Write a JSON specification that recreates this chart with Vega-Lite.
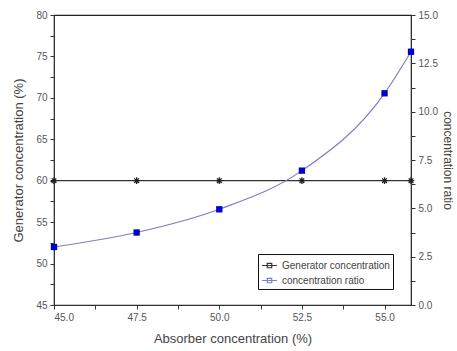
{
  "$schema": "https://vega.github.io/schema/vega-lite/v6.json",
  "width": 357,
  "height": 290,
  "autosize": {"type": "none"},
  "padding": {"left": 54, "top": 15, "right": 46, "bottom": 46},
  "background": "white",
  "config": {
    "font": "Liberation Sans",
    "view": {"stroke": "#222", "strokeWidth": 1.2},
    "axis": {
      "grid": false,
      "labelColor": "#555",
      "titleColor": "#444",
      "domainColor": "#333",
      "tickColor": "#333",
      "labelFontSize": 10,
      "titleFontSize": 13,
      "titleFontWeight": "normal",
      "tickSize": 4,
      "labelPadding": 3
    }
  },
  "data": {
    "values": [
      {"x": 45.0, "gen": 60, "ratio": 3.0},
      {"x": 47.5, "gen": 60, "ratio": 3.75},
      {"x": 50.0, "gen": 60, "ratio": 4.95},
      {"x": 52.5, "gen": 60, "ratio": 6.95},
      {"x": 55.0, "gen": 60, "ratio": 10.95},
      {"x": 55.8, "gen": 60, "ratio": 13.1}
    ]
  },
  "layer": [
    {
      "encoding": {
        "x": {
          "field": "x", "type": "quantitative",
          "scale": {"domain": [45, 55.8], "nice": false, "zero": false},
          "axis": {
            "title": "Absorber concentration (%)",
            "values": [45, 46.25, 47.5, 48.75, 50, 51.25, 52.5, 53.75, 55],
            "labelExpr": "datum.value % 2.5 == 0 ? format(datum.value, '.1f') : ''",
            "titlePadding": 10
          }
        },
        "y": {
          "field": "gen", "type": "quantitative",
          "scale": {"domain": [45, 80], "nice": false, "zero": false},
          "axis": {
            "title": "Generator concentration (%)",
            "orient": "left",
            "values": [45, 47.5, 50, 52.5, 55, 57.5, 60, 62.5, 65, 67.5, 70, 72.5, 75, 77.5, 80],
            "labelExpr": "datum.value % 5 == 0 ? format(datum.value, 'd') : ''",
            "titlePadding": 10
          }
        }
      },
      "layer": [
        {
          "mark": {"type": "line", "strokeWidth": 1.2},
          "encoding": {
            "color": {
              "datum": "Generator concentration",
              "type": "nominal",
              "scale": {"domain": ["Generator concentration", "concentration ratio"], "range": ["#333333", "#7f7fc4"]},
              "legend": {
                "title": null,
                "orient": "none",
                "legendX": 204,
                "legendY": 239,
                "fillColor": "white",
                "strokeColor": "#111",
                "padding": 3,
                "labelFontSize": 10,
                "labelColor": "#444",
                "rowPadding": 1,
                "symbolType": "M-1,0H1M-0.3,-0.3H0.3V0.3H-0.3Z",
                "symbolSize": 220,
                "symbolStrokeWidth": 1.2
              }
            }
          }
        },
        {
          "mark": {"type": "point", "shape": "M-1,0L1,0M0,-1L0,1M-0.7,-0.7L0.7,0.7M-0.7,0.7L0.7,-0.7", "filled": false, "size": 45, "color": "#222", "strokeWidth": 1.3, "opacity": 1}
        }
      ]
    },
    {
      "encoding": {
        "x": {"field": "x", "type": "quantitative", "scale": {"domain": [45, 55.8], "nice": false, "zero": false}},
        "y": {
          "field": "ratio", "type": "quantitative",
          "scale": {"domain": [0, 15], "nice": false},
          "axis": {
            "title": "concentration ratio",
            "orient": "right",
            "titleFontSize": 12,
            "values": [0, 1.25, 2.5, 3.75, 5, 6.25, 7.5, 8.75, 10, 11.25, 12.5, 13.75, 15],
            "labelExpr": "datum.value % 2.5 == 0 ? format(datum.value, '.1f') : ''",
            "titlePadding": 3
          }
        }
      },
      "layer": [
        {
          "mark": {"type": "line", "interpolate": "monotone", "strokeWidth": 1.2},
          "encoding": {"color": {"datum": "concentration ratio", "type": "nominal"}}
        },
        {
          "mark": {"type": "point", "shape": "square", "filled": true, "size": 40, "color": "#0000cc", "opacity": 1}
        }
      ]
    }
  ],
  "resolve": {"scale": {"y": "independent"}}
}
